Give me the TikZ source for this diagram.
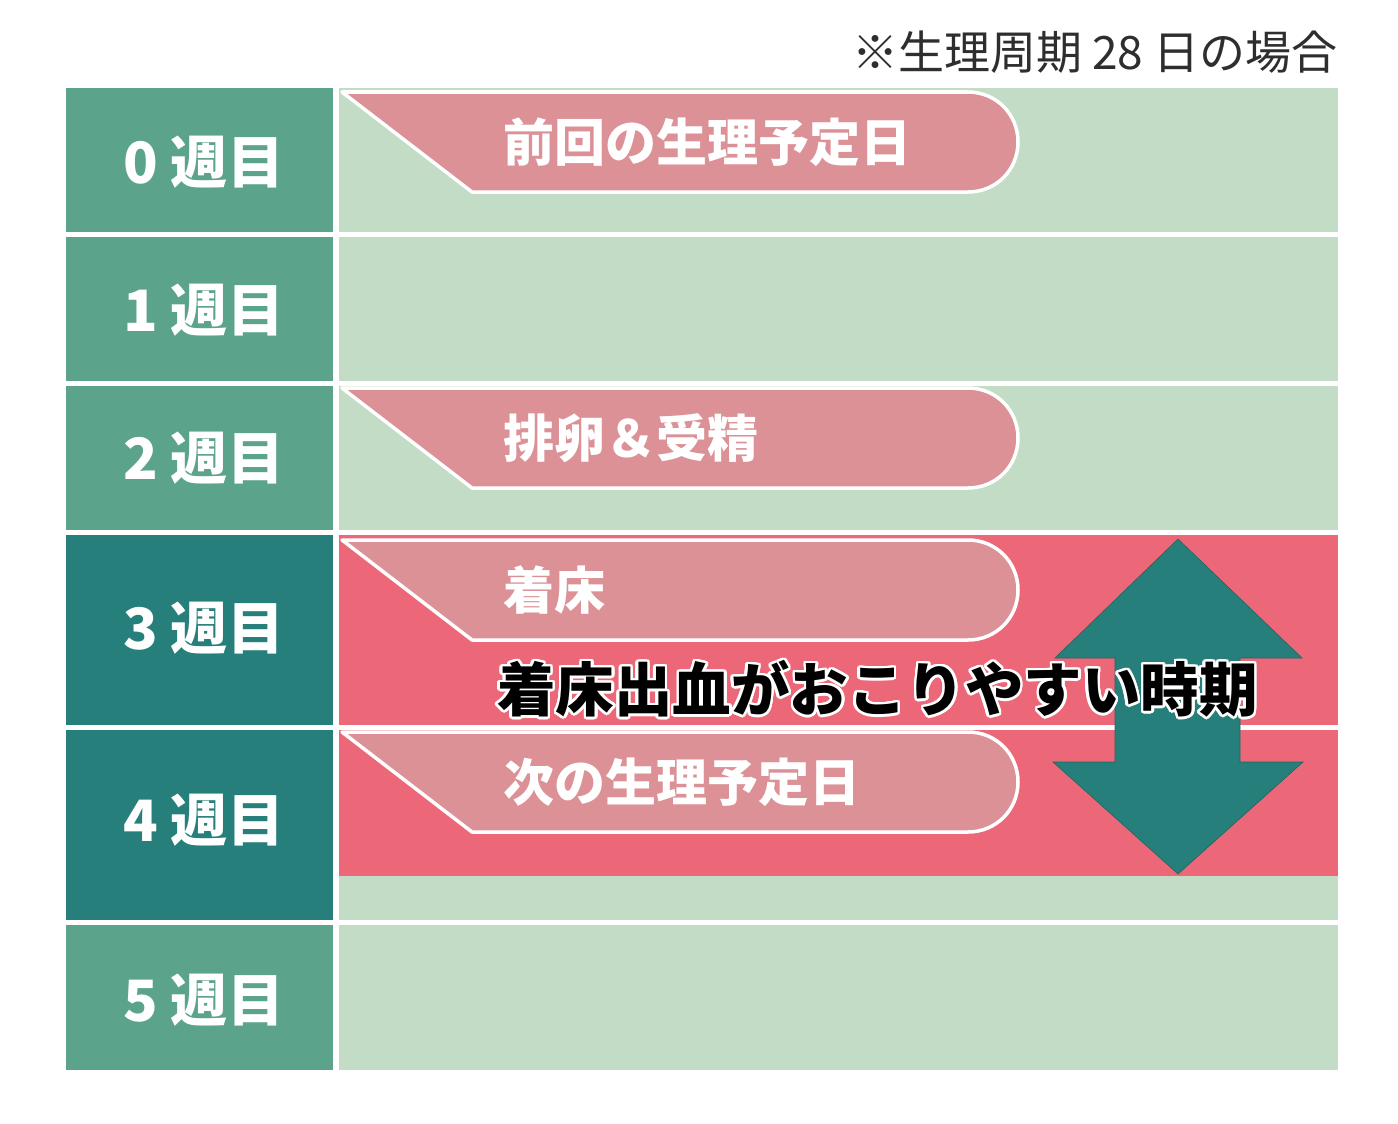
\documentclass[tikz,border=0pt]{standalone}
\usepackage{fontspec}
\setmainfont{Noto Sans CJK JP}
\usepackage{contour}
\contourlength{2.5pt}
\contournumber{24}
\definecolor{lgreen}{HTML}{5BA38A}
\definecolor{dteal}{HTML}{267F7A}
\definecolor{pgreen}{HTML}{C3DCC5}
\definecolor{tabpink}{HTML}{DB9196}
\definecolor{hotpink}{HTML}{EC6878}
\definecolor{notegray}{HTML}{2E2E2E}
\tikzset{
  leftcell/.style={inner sep=0pt, outer sep=0pt, minimum width=267pt},
  lbl/.style={inner sep=0pt, text=white, font=\bfseries\fontsize{57}{62}\selectfont},
  rightcell/.style={inner sep=0pt, outer sep=0pt, minimum width=999pt, fill=pgreen},
  tabtxt/.style={anchor=west, inner sep=0pt, text=white, font=\bfseries\fontsize{51}{56}\selectfont},
  bigtxt/.style={inner sep=0pt, font=\bfseries\fontsize{58.5}{64}\selectfont},
  tabshape/.style={fill=tabpink, draw=white, line width=3.5pt, line join=round},
  tabpic/.pic={
    \path[tabshape] (0,0) -- (626,0) .. controls (654,0) and (676,22) .. (676,50)
      .. controls (676,78) and (654,100) .. (626,100) -- (130,100) -- cycle;
  }
}
\begin{document}
\begin{tikzpicture}[x=1pt,y=-1pt]
\fill[white] (0,0) rectangle (1398,1124);
\useasboundingbox (0,0) rectangle (1398,1124);
% left column
\node[leftcell, fill=lgreen, minimum height=144pt] (w0) at (199.5,160) {};
\node[leftcell, fill=lgreen, minimum height=144pt] (w1) at (199.5,309) {};
\node[leftcell, fill=lgreen, minimum height=144pt] (w2) at (199.5,458) {};
\node[leftcell, fill=dteal, minimum height=190pt] (w3) at (199.5,630) {};
\node[leftcell, fill=dteal, minimum height=190pt] (w4) at (199.5,825) {};
\node[leftcell, fill=lgreen, minimum height=145pt] (w5) at (199.5,997.5) {};
\node[lbl] (l0) at (204,162) {0\hspace{12pt}週目};
\node[lbl] (l1) at (204,310) {1\hspace{12pt}週目};
\node[lbl] (l2) at (204,458) {2\hspace{12pt}週目};
\node[lbl] (l3) at (204,628) {3\hspace{12pt}週目};
\node[lbl] (l4) at (204,820) {4\hspace{12pt}週目};
\node[lbl] (l5) at (204,1000) {5\hspace{12pt}週目};
% right column
\node[rightcell, minimum height=144pt] (r0) at (838.5,160) {};
\node[rightcell, minimum height=144pt] (r1) at (838.5,309) {};
\node[rightcell, minimum height=144pt] (r2) at (838.5,458) {};
\node[rightcell, fill=hotpink, minimum height=190pt] (r3) at (838.5,630) {};
\node[rightcell, minimum height=190pt] (r4) at (838.5,825) {};
\fill[hotpink] (339,730) rectangle (1338,876);
\node[rightcell, minimum height=145pt] (r5) at (838.5,997.5) {};
% tabs
\pic at (342,92) {tabpic};
\pic at (342,388) {tabpic};
\pic at (342,540) {tabpic};
\pic at (342,732) {tabpic};
\node[tabtxt] (t0) at (503,142) {前回の生理予定日};
\node[tabtxt] (t2) at (503,438) {排卵＆受精};
\node[tabtxt] (t3) at (503,590) {着床};
\node[tabtxt] (t4) at (503,782) {次の生理予定日};
% double arrow
\fill[dteal, draw=dteal!80!black, line width=0.6pt]
  (1178,539) -- (1302,658) -- (1240,658) -- (1240,762) -- (1303,762) -- (1178,874)
  -- (1053,762) -- (1115,762) -- (1115,658) -- (1055,658) -- cycle;
% big text with white contour
\node[bigtxt, text=black] (big) at (877.5,690) {\contour{white}{着床出血がおこりやすい時期}};
% note
\node[anchor=east, inner sep=0pt, text=notegray, font=\fontsize{46}{50}\selectfont] (note) at (1338,52) {※生理周期 28 日の場合};
\end{tikzpicture}
\end{document}
